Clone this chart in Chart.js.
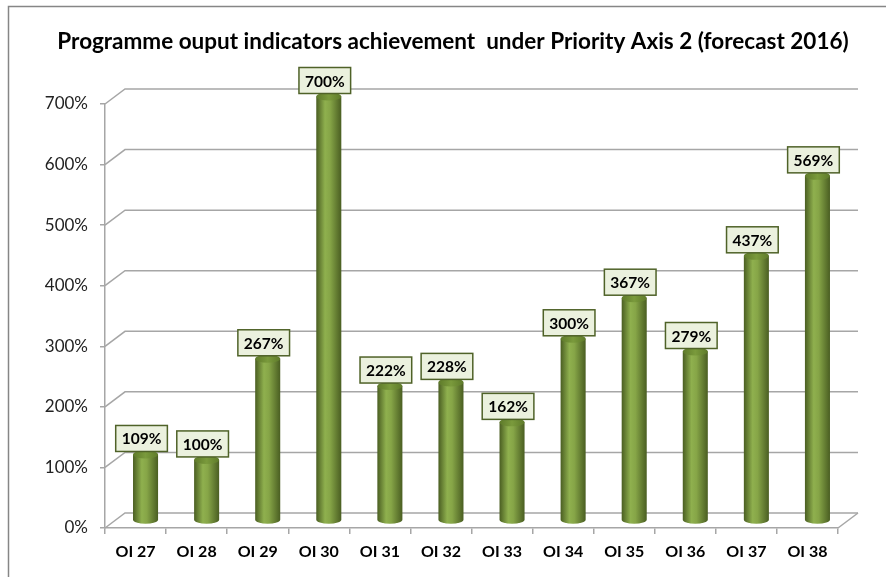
<!DOCTYPE html>
<html>
<head>
<meta charset="utf-8">
<script src="https://cdn.jsdelivr.net/npm/chart.js@4/dist/chart.umd.min.js"></script>
<style>
  html, body { margin: 0; padding: 0; background: #fff; }
  #wrap { width: 886px; height: 577px; }
</style>
</head>
<body>
<div id="wrap"><canvas id="chart"></canvas></div>
<script>
// data
var categories = ["OI 27", "OI 28", "OI 29", "OI 30", "OI 31", "OI 32", "OI 33", "OI 34", "OI 35", "OI 36", "OI 37", "OI 38"];
var achievement = [109, 100, 267, 700, 222, 228, 162, 300, 367, 279, 437, 569];
var tickValues = [0, 100, 200, 300, 400, 500, 600, 700];

var FONT = "Lato";
var DEPTH_X = 20, DEPTH_Y = -15; // 3d offset of the back wall
var GRID = "#a6a6a6";

// back wall, diagonals, floor and outer frame
var wallPlugin = {
  id: "wall",
  beforeDraw: function(chart) {
    var c = chart.ctx;
    c.save();
    c.fillStyle = "#fff";
    c.fillRect(0, 0, chart.width, chart.height);
    c.strokeStyle = "#868686";
    c.lineWidth = 1.5;
    c.strokeRect(8.5, 6.5, chart.width + 20, chart.height + 20);
    c.restore();
  },
  beforeDatasetsDraw: function(chart) {
    var c = chart.ctx, y = chart.scales.y, area = chart.chartArea;
    c.save();
    c.strokeStyle = GRID;
    c.lineWidth = 1.5;
    tickValues.forEach(function(v) {
      var py = y.getPixelForValue(v);
      c.beginPath();
      c.moveTo(area.left, py);
      c.lineTo(area.left + DEPTH_X, py + DEPTH_Y);
      c.lineTo(area.right + DEPTH_X, py + DEPTH_Y);
      c.stroke();
    });
    // right edge of the floor
    var by = y.getPixelForValue(0);
    c.beginPath();
    c.moveTo(area.right, by);
    c.lineTo(area.right + DEPTH_X, by + DEPTH_Y);
    c.stroke();
    c.restore();
  }
};

// cylinders + value boxes, placed from the library's bar elements
var cylinderPlugin = {
  id: "cylinders",
  afterDatasetsDraw: function(chart) {
    var c = chart.ctx;
    var meta = chart.getDatasetMeta(0);
    c.save();
    meta.data.forEach(function(bar, i) {
      var w = bar.width;
      var cx = bar.x + DEPTH_X / 2;
      var top = bar.y + DEPTH_Y / 2;
      var base = bar.base + DEPTH_Y / 2;
      var rx = w / 2, ry = 4;
      var left = cx - rx;

      var g = c.createLinearGradient(left, 0, left + w, 0);
      g.addColorStop(0, "#4a5e22");
      g.addColorStop(0.35, "#8fb04e");
      g.addColorStop(0.55, "#86a547");
      g.addColorStop(1, "#4a5e22");
      c.fillStyle = g;
      c.beginPath();
      c.moveTo(left, top);
      c.lineTo(left, base);
      c.ellipse(cx, base, rx, ry, 0, Math.PI, 0, true);
      c.lineTo(left + w, top);
      c.closePath();
      c.fill();

      var gt = c.createLinearGradient(left, 0, left + w, 0);
      gt.addColorStop(0, "#5e7a2a");
      gt.addColorStop(0.5, "#7a9a3c");
      gt.addColorStop(1, "#5e7a2a");
      c.fillStyle = gt;
      c.beginPath();
      c.ellipse(cx, top, rx, ry, 0, 0, Math.PI * 2);
      c.fill();

      // value label box
      var txt = achievement[i] + "%";
      c.font = "bold 15.5px " + FONT;
      var tw = c.measureText(txt).width;
      var bw = tw + 12, bh = 26;
      var bx = cx - 4 - bw / 2, byy = top - ry - bh + 1;
      c.fillStyle = "#ebf1de";
      c.fillRect(bx, byy, bw, bh);
      c.strokeStyle = "#4f6228";
      c.lineWidth = 1.5;
      c.strokeRect(bx, byy, bw, bh);
      c.fillStyle = "#000";
      c.textAlign = "center";
      c.textBaseline = "middle";
      c.fillText(txt, bx + bw / 2, byy + bh / 2 + 1);
    });
    c.restore();
  }
};

new Chart(document.getElementById("chart"), {
  type: "bar",
  data: {
    labels: categories,
    datasets: [{
      data: achievement,
      backgroundColor: "rgba(0,0,0,0)",
      borderWidth: 0,
      barPercentage: 0.41,
      categoryPercentage: 1
    }]
  },
  options: {
    responsive: true,
    maintainAspectRatio: false,
    animation: false,
    devicePixelRatio: 1,
    layout: { padding: { left: 20, right: 0, top: 0, bottom: 0 } },
    plugins: {
      legend: { display: false },
      tooltip: { enabled: false },
      title: {
        display: true,
        text: "Programme ouput indicators achievement  under Priority Axis 2 (forecast 2016)",
        color: "#000",
        font: { family: FONT, size: 22.5, weight: "bold", lineHeight: 1.2 },
        padding: { top: 28, bottom: 49 }
      }
    },
    scales: {
      x: {
        grid: { display: true, drawOnChartArea: false, drawTicks: true, tickLength: 6, color: GRID, lineWidth: 1.5, offset: true },
        border: { display: true, color: GRID, width: 1.5 },
        ticks: { color: "#000", padding: 8, font: { family: FONT, size: 16, weight: "bold" }, maxRotation: 0 },
        afterFit: function(s) { s.height = 49; }
      },
      y: {
        min: 0,
        max: 700,
        afterBuildTicks: function(s) { s.ticks = tickValues.map(function(v) { return { value: v }; }); },
        grid: { display: true, drawOnChartArea: false, drawTicks: true, tickLength: 5, color: GRID, lineWidth: 1.5 },
        border: { display: true, color: GRID, width: 1.5 },
        ticks: { color: "#222", padding: 12, font: { family: FONT, size: 17 }, callback: function(v) { return v + "%"; } },
        afterFit: function(s) { s.width = 85; }
      },
      yr: {
        type: "linear",
        position: "right",
        display: true,
        grid: { display: false },
        border: { display: false },
        ticks: { display: false },
        afterFit: function(s) { s.width = 48; }
      }
    }
  },
  plugins: [wallPlugin, cylinderPlugin]
});
</script>
</body>
</html>
